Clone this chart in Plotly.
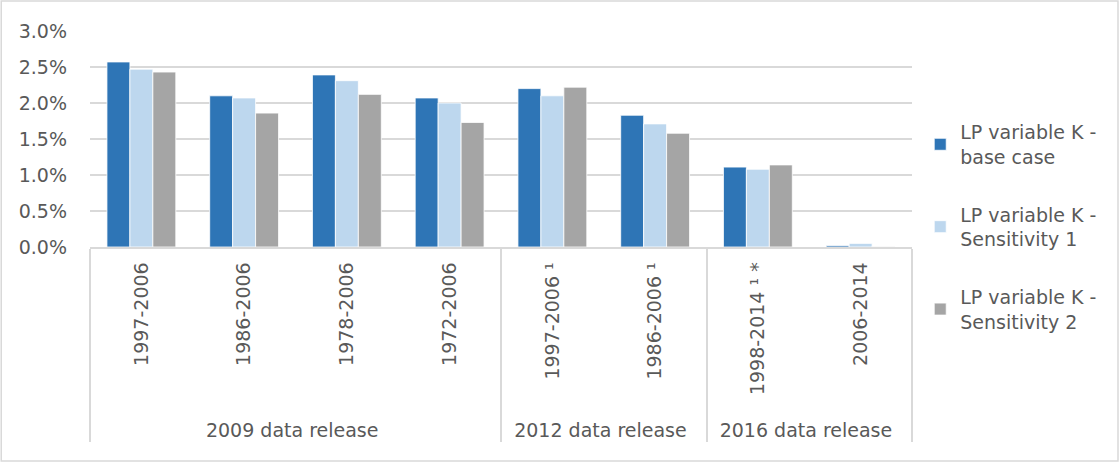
import plotly.graph_objects as go

groups = ["2009 data release"] * 4 + ["2012 data release"] * 2 + ["2016 data release"] * 2
periods = ["1997-2006", "1986-2006", "1978-2006", "1972-2006",
           "1997-2006 ¹", "1986-2006 ¹", "1998-2014 ¹ *", "2006-2014"]

base_case = [0.0257, 0.0210, 0.0239, 0.0207, 0.0220, 0.0183, 0.0111, 0.0002]
sensitivity1 = [0.0247, 0.0207, 0.0231, 0.0200, 0.0210, 0.0171, 0.0108, 0.0005]
sensitivity2 = [0.0243, 0.0186, 0.0212, 0.0173, 0.0222, 0.0158, 0.0114, 0.00005]

series_names = ["LP variable K -<br>base case",
                "LP variable K -<br>Sensitivity 1",
                "LP variable K -<br>Sensitivity 2"]
colors = ["#2E75B6", "#BDD7EE", "#A5A5A5"]

FONT = "DejaVu Sans"
FS = 19
GRAY = "#595959"

# leading non-breaking spaces give the rotated labels the same bottom padding as the original
period_labels = ["\u00a0\u00a0" + p for p in periods]

fig = go.Figure()
for i, (name, vals, col) in enumerate(zip(series_names, [base_case, sensitivity1, sensitivity2], colors)):
    fig.add_trace(go.Bar(
        x=[groups, period_labels], y=vals, name=name, legendgroup=f"g{i}",
        marker=dict(color=col, line=dict(color="white", width=0.8)),
    ))

fig.update_layout(
    width=1120, height=463,
    paper_bgcolor="white", plot_bgcolor="white",
    margin=dict(l=90, r=208, t=31, b=216, autoexpand=False),
    barmode="group", bargap=0.33, bargroupgap=0,
    font=dict(family=FONT, size=FS, color=GRAY),
    legend=dict(x=1.01, y=0.62, xanchor="left", yanchor="top",
                font=dict(family=FONT, size=FS, color=GRAY),
                tracegroupgap=30, itemwidth=30, maxheight=600),
    showlegend=True,
)
fig.update_yaxes(range=[0, 0.03], dtick=0.005, tickformat=".1%",
                 showgrid=True, gridcolor="#D9D9D9", gridwidth=1.5,
                 zeroline=False, showline=False, ticks="", ticklabelstandoff=22,
                 tickfont=dict(family=FONT, size=FS, color=GRAY))
fig.update_xaxes(type="multicategory", tickangle=-90,
                 showline=True, linecolor="#D9D9D9", linewidth=1.5,
                 showdividers=True, dividercolor="#D9D9D9", dividerwidth=1.5,
                 ticks="", ticklabelstandoff=6,
                 tickfont=dict(family=FONT, size=FS, color=GRAY))

fig.add_shape(type="rect", xref="paper", yref="paper",
              x0=-0.108, x1=1.2506, y0=-0.991, y1=1.139,
              line=dict(color="#D9D9D9", width=1.5), layer="below")

fig.write_html("out.html", config={"responsive": False, "displayModeBar": False},
               post_script="document.body.style.margin='0';document.body.style.overflow='hidden';")
